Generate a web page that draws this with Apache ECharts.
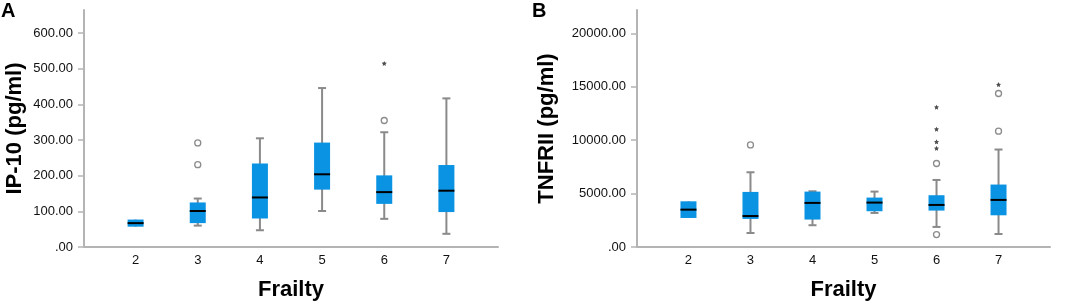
<!DOCTYPE html>
<html>
<head>
<meta charset="utf-8">
<script src="https://cdn.jsdelivr.net/npm/echarts@6/dist/echarts.min.js"></script>
<style>
  html, body { margin: 0; padding: 0; background: #fff; }
  #chart { width: 1065px; height: 306px; }
</style>
</head>
<body>
<div id="chart"></div>
<script>
// frailty groups on x
const frailty = [2, 3, 4, 5, 6, 7];

// IP-10 boxes: [min, q1, median, q3, max]
const ip10Box = [
  [57, 57, 67, 77, 77],
  [60, 67, 101, 125, 136],
  [47, 80, 139, 234, 305],
  [101, 161, 204, 293, 446],
  [79, 121, 154, 201, 322],
  [37, 98, 158, 230, 417]
];
const ip10Outliers = [[3, 292], [3, 231], [6, 355]];
const ip10Extremes = [[6, 515]];
const ip10Ticks = [0, 100, 200, 300, 400, 500, 600];

// TNFRII boxes
const tnfBox = [
  [2720, 2720, 3500, 4280, 4280],
  [1310, 2630, 2900, 5160, 7000],
  [2040, 2570, 4130, 5190, 5220],
  [3190, 3350, 4160, 4630, 5190],
  [1880, 3410, 3940, 4850, 6280],
  [1220, 2970, 4410, 5850, 9130]
];
const tnfOutliers = [[3, 9560], [6, 7820], [6, 1160], [7, 10850], [7, 14380]];
const tnfExtremes = [[6, 13100], [6, 11040], [6, 9850], [6, 9250], [7, 15220]];
const tnfTicks = [0, 5000, 10000, 15000, 20000];

const font = 'Arial, "Liberation Sans", sans-serif';
const starPath = 'path://M0,-10 L2.9,-4 9.5,-3.1 4.7,1.5 5.9,8.1 0,5 -5.9,8.1 -4.7,1.5 -9.5,-3.1 -2.9,-4 Z';

// 盒子 + 须线 + 中位线
function renderBox(params, api) {
  const x = api.value(0);
  const pMin = api.coord([x, api.value(1)]);
  const pQ1 = api.coord([x, api.value(2)]);
  const pMed = api.coord([x, api.value(3)]);
  const pQ3 = api.coord([x, api.value(4)]);
  const pMax = api.coord([x, api.value(5)]);
  const cx = pMed[0];
  const bw = 16, cw = 8;
  const gray = { stroke: '#8a8a8a', lineWidth: 2 };
  const children = [];
  children.push({ type: 'line', shape: { x1: cx, y1: pMax[1], x2: cx, y2: pMin[1] }, style: gray });
  if (api.value(5) > api.value(4)) {
    children.push({ type: 'line', shape: { x1: cx - cw / 2, y1: pMax[1], x2: cx + cw / 2, y2: pMax[1] }, style: gray });
  }
  if (api.value(1) < api.value(2)) {
    children.push({ type: 'line', shape: { x1: cx - cw / 2, y1: pMin[1], x2: cx + cw / 2, y2: pMin[1] }, style: gray });
  }
  children.push({ type: 'rect', shape: { x: cx - bw / 2, y: pQ3[1], width: bw, height: pQ1[1] - pQ3[1] }, style: { fill: '#0a93e3' } });
  children.push({ type: 'line', shape: { x1: cx - bw / 2, y1: pMed[1], x2: cx + bw / 2, y2: pMed[1] }, style: { stroke: '#000', lineWidth: 2 } });
  return { type: 'group', children: children };
}

function xAxisCfg(gi) {
  return {
    type: 'value', gridIndex: gi, min: 1.17, max: 7.83,
    name: 'Frailty', nameLocation: 'middle', nameGap: 32,
    nameTextStyle: { fontFamily: font, fontSize: 22, fontWeight: 'bold', color: '#000' },
    axisLine: { lineStyle: { color: '#b4b4b4', width: 2 } },
    axisTick: { show: false },
    splitLine: { show: false },
    axisLabel: { customValues: frailty, margin: 7, fontFamily: font, fontSize: 13, color: '#111' }
  };
}

function yAxisCfg(gi, name, max, ticks, gap) {
  return {
    type: 'value', gridIndex: gi, min: 0, max: max,
    name: name, nameLocation: 'middle', nameGap: gap,
    nameTextStyle: { fontFamily: font, fontSize: 22, fontWeight: 'bold', color: '#000' },
    axisLine: { show: true, lineStyle: { color: '#b4b4b4', width: 2 } },
    axisTick: { show: true, length: 6, customValues: ticks, lineStyle: { color: '#b4b4b4', width: 1.5 } },
    splitLine: { show: false },
    axisLabel: {
      customValues: ticks, margin: 11, fontFamily: font, fontSize: 13, color: '#111',
      formatter: function (v) { return v === 0 ? '.00' : v.toFixed(2); }
    }
  };
}

function panelSeries(idx, box, outliers, extremes) {
  return [
    {
      type: 'custom', xAxisIndex: idx, yAxisIndex: idx,
      renderItem: renderBox,
      encode: { x: 0, y: [1, 2, 3, 4, 5] },
      data: frailty.map(function (f, i) { return [f].concat(box[i]); })
    },
    {
      type: 'scatter', xAxisIndex: idx, yAxisIndex: idx,
      symbol: 'circle', symbolSize: 6,
      itemStyle: { color: '#fff', borderColor: '#6e6e6e', borderWidth: 1.3 },
      data: outliers
    },
    {
      type: 'scatter', xAxisIndex: idx, yAxisIndex: idx,
      symbol: starPath, symbolSize: 5,
      itemStyle: { color: '#222' },
      data: extremes
    }
  ];
}

const chart = echarts.init(document.getElementById('chart'), null, { renderer: 'canvas' });
chart.setOption({
  animation: false,
  textStyle: { fontFamily: font },
  graphic: [
    { type: 'text', left: 1, top: 1, style: { text: 'A', font: 'bold 20px ' + font, fill: '#000' } },
    { type: 'text', left: 532, top: 1, style: { text: 'B', font: 'bold 20px ' + font, fill: '#000' } }
  ],
  grid: [
    { left: 84, top: 10, width: 414, height: 237 },
    { left: 637, top: 10, width: 413, height: 237 }
  ],
  xAxis: [xAxisCfg(0), xAxisCfg(1)],
  yAxis: [
    yAxisCfg(0, 'IP-10 (pg/ml)', 665, ip10Ticks, 58),
    yAxisCfg(1, 'TNFRII (pg/ml)', 22200, tnfTicks, 79)
  ],
  series: panelSeries(0, ip10Box, ip10Outliers, ip10Extremes)
    .concat(panelSeries(1, tnfBox, tnfOutliers, tnfExtremes))
});
</script>
</body>
</html>
